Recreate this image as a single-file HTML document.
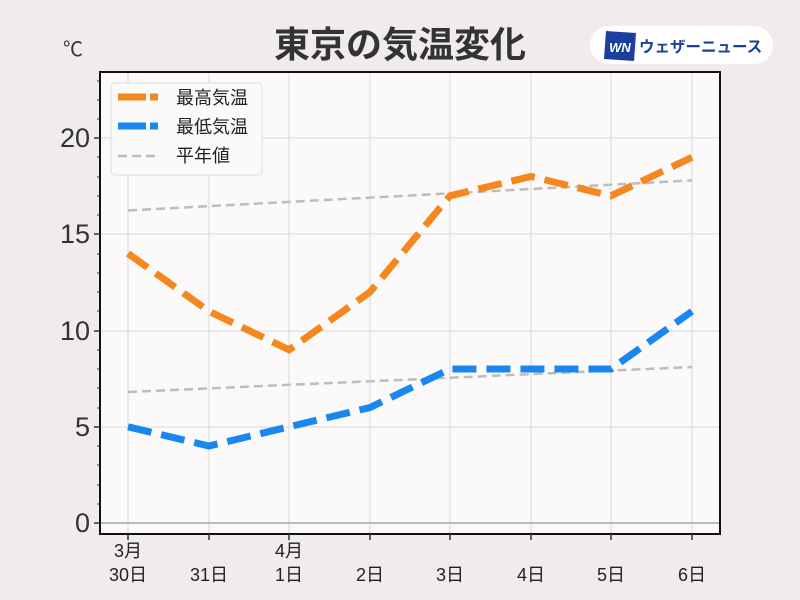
<!DOCTYPE html><html><head><meta charset="utf-8"><style>body{margin:0;background:#efeceb}svg{display:block}text{font-family:"Liberation Sans","Noto Sans CJK JP",sans-serif}</style></head><body>
<svg width="800" height="600" xmlns="http://www.w3.org/2000/svg">
<rect width="800" height="600" fill="#efeceb"/>
<text x="400" y="57" text-anchor="middle" font-size="36" font-weight="bold" fill="#333" font-family="Noto Sans CJK JP,sans-serif">東京の気温変化</text>
<text x="63" y="56" font-size="20" fill="#333">℃</text>
<rect x="590" y="26" width="183" height="38" rx="19" fill="#fff"/>
<polygon points="606,31 636,33 634,61 604,59" fill="#1a3f9c"/>
<text x="620" y="52" text-anchor="middle" font-size="13" font-weight="bold" font-style="italic" fill="#fff">WN</text>
<text x="639" y="52" font-size="15.5" font-weight="bold" fill="#1a3f9c" font-family="Noto Sans CJK JP,sans-serif">ウェザーニュース</text>
<rect x="100" y="72" width="620" height="462" fill="#fbf9fa"/>
<g stroke="#d8d8d8" stroke-width="1">
<line x1="128" y1="72" x2="128" y2="534"/><line x1="209" y1="72" x2="209" y2="534"/><line x1="289" y1="72" x2="289" y2="534"/><line x1="370" y1="72" x2="370" y2="534"/><line x1="450" y1="72" x2="450" y2="534"/><line x1="531" y1="72" x2="531" y2="534"/><line x1="611" y1="72" x2="611" y2="534"/><line x1="692" y1="72" x2="692" y2="534"/>
<line x1="100" y1="138" x2="720" y2="138"/><line x1="100" y1="234" x2="720" y2="234"/><line x1="100" y1="331" x2="720" y2="331"/><line x1="100" y1="427" x2="720" y2="427"/>
</g>
<line x1="100" y1="523" x2="720" y2="523" stroke="#bbb" stroke-width="2"/>
<g stroke="#bdbdbd" stroke-width="2.5" stroke-dasharray="9,5" fill="none">
<line x1="128" y1="210.5" x2="692" y2="180.4"/>
<line x1="128" y1="392" x2="692" y2="367"/>
</g>
<g stroke-width="7" stroke-dasharray="24,10" fill="none" stroke-linejoin="miter">
<polyline stroke="#f5871f" points="128,253.5 209,311.3 289,349.8 370,292 450,195.8 531,176.5 611,195.8 692,157.3"/>
<polyline stroke="#1a87f0" points="128,426.8 209,446 289,426.8 370,407.5 450,369 531,369 611,369 692,311.3"/>
</g>
<rect x="100" y="72" width="620" height="462" fill="none" stroke="#111" stroke-width="2"/>
<g stroke="#333" stroke-width="1.5">
<line x1="94" y1="523" x2="100" y2="523"/><line x1="94" y1="427" x2="100" y2="427"/><line x1="94" y1="331" x2="100" y2="331"/><line x1="94" y1="234" x2="100" y2="234"/><line x1="94" y1="138" x2="100" y2="138"/>
<line x1="128" y1="534" x2="128" y2="540"/><line x1="209" y1="534" x2="209" y2="540"/><line x1="289" y1="534" x2="289" y2="540"/><line x1="370" y1="534" x2="370" y2="540"/><line x1="450" y1="534" x2="450" y2="540"/><line x1="531" y1="534" x2="531" y2="540"/><line x1="611" y1="534" x2="611" y2="540"/><line x1="692" y1="534" x2="692" y2="540"/>
</g>
<g stroke="#333" stroke-width="1">
<line x1="97" y1="504" x2="100" y2="504"/><line x1="97" y1="485" x2="100" y2="485"/><line x1="97" y1="465" x2="100" y2="465"/><line x1="97" y1="446" x2="100" y2="446"/>
<line x1="97" y1="408" x2="100" y2="408"/><line x1="97" y1="388" x2="100" y2="388"/><line x1="97" y1="369" x2="100" y2="369"/><line x1="97" y1="350" x2="100" y2="350"/>
<line x1="97" y1="311" x2="100" y2="311"/><line x1="97" y1="292" x2="100" y2="292"/><line x1="97" y1="273" x2="100" y2="273"/><line x1="97" y1="254" x2="100" y2="254"/>
<line x1="97" y1="215" x2="100" y2="215"/><line x1="97" y1="196" x2="100" y2="196"/><line x1="97" y1="177" x2="100" y2="177"/><line x1="97" y1="157" x2="100" y2="157"/>
<line x1="97" y1="119" x2="100" y2="119"/><line x1="97" y1="100" x2="100" y2="100"/><line x1="97" y1="81" x2="100" y2="81"/>
</g>
<g font-size="27" fill="#333" text-anchor="end">
<text x="90" y="532">0</text><text x="90" y="436">5</text><text x="90" y="340">10</text><text x="90" y="243">15</text><text x="90" y="147">20</text>
</g>
<g font-size="18" fill="#222" text-anchor="middle">
<text x="128" y="557">3月</text><text x="128" y="581">30日</text>
<text x="209" y="581">31日</text>
<text x="289" y="557">4月</text><text x="289" y="581">1日</text>
<text x="370" y="581">2日</text><text x="450" y="581">3日</text><text x="531" y="581">4日</text><text x="611" y="581">5日</text><text x="692" y="581">6日</text>
</g>
<rect x="111" y="83" width="151" height="92" rx="4" fill="#fbf9fa" stroke="#ddd"/>
<g stroke-width="7"><line x1="118" y1="97" x2="146" y2="97" stroke="#f5871f"/><line x1="150" y1="97" x2="158" y2="97" stroke="#f5871f"/>
<line x1="118" y1="126" x2="146" y2="126" stroke="#1a87f0"/><line x1="150" y1="126" x2="158" y2="126" stroke="#1a87f0"/></g>
<line x1="118" y1="156" x2="158" y2="156" stroke="#bdbdbd" stroke-width="2.5" stroke-dasharray="9,5"/>
<g font-size="18" fill="#222"><text x="176" y="104">最高気温</text><text x="176" y="133">最低気温</text><text x="176" y="162">平年値</text></g>
</svg></body></html>
